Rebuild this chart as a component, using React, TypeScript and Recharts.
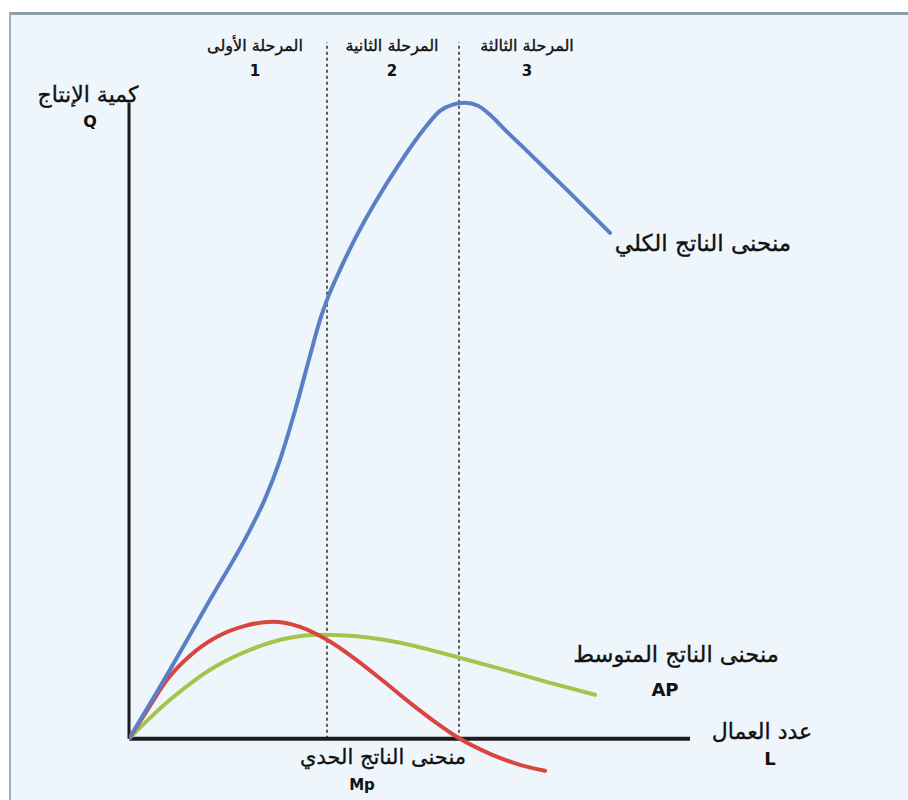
import { LineChart, Line, XAxis, YAxis, ReferenceLine } from "recharts";

// Stage titles above the chart and the stage numbers under them
const STAGE_NAMES = ["المرحلة الأولى", "المرحلة الثانية", "المرحلة الثالثة"];
const STAGE_NUMBERS = ["1", "2", "3"];
// Stage boundaries on the L axis
const STAGE_BOUNDS = [30, 50];

// Total product (TP)
const TP_L = [0, 6.21, 12.27, 18.33, 20.61, 22.88, 25.15, 27.42, 28.94, 30, 31.97, 34.24, 37.27, 41.06, 44.85, 47.12, 48.94, 50.91, 52.88, 54.7, 56.97, 60.76, 66.82, 72.88];
const TP_Q = [0, 10.85, 21.85, 32.85, 37.72, 43.85, 51.56, 60.2, 65.86, 69, 73.72, 78.58, 84.25, 90.54, 96.04, 98.71, 99.65, 99.97, 99.5, 98.08, 95.72, 91.95, 85.82, 79.53];

// Marginal product (MP)
const MP_L = [0, 3.18, 5.76, 9.24, 13.33, 17.58, 21.82, 25.91, 30, 34.24, 38.48, 42.58, 46.36, 50.15, 54.7, 59.24, 63.03];
const MP_Q = [0, 5.19, 9.27, 13.05, 16.03, 17.76, 18.39, 17.6, 15.56, 12.57, 9.12, 5.66, 2.67, 0, -2.36, -4.09, -5.03];

// Average product (AP)
const AP_L = [0, 3.18, 6.21, 9.24, 13.03, 18.33, 24.39, 28.48, 33.48, 36.52, 41.06, 45.61, 50.15, 55.76, 63.79, 70.61];
const AP_Q = [0, 3.3, 6.13, 8.65, 11.32, 13.99, 15.88, 16.35, 16.19, 15.88, 15.09, 13.99, 12.73, 11.16, 8.8, 6.92];

const Y_TITLE = ["كمية الإنتاج", "Q"];
const X_TITLE = ["عدد العمال", "L"];
const TP_NAME = "منحنى الناتج الكلي";
const AP_NAME = ["منحنى الناتج المتوسط", "AP"];
const MP_NAME = ["منحنى الناتج الحدي", "Mp"];

const zip = (xs: number[], ys: number[]) => xs.map((l, i) => ({ l, q: ys[i] }));

const FONT = "'DejaVu Sans', sans-serif";
const INK = "#111111";

function Txt({ x, y, size, bold, children }: { x: number; y: number; size: number; bold?: boolean; children: string }) {
  return (
    <div
      style={{
        position: "absolute",
        left: x,
        top: y,
        transform: "translate(-50%, -50%)",
        whiteSpace: "nowrap",
        fontFamily: FONT,
        fontSize: size,
        fontWeight: bold ? 700 : 400,
        color: INK,
        WebkitTextStroke: bold ? undefined : "0.35px #111111",
        direction: "rtl",
        lineHeight: 1,
      }}
    >
      {children}
    </div>
  );
}

export default function App() {
  const tp = zip(TP_L, TP_Q);
  const mp = zip(MP_L, MP_Q);
  const ap = zip(AP_L, AP_Q);
  const stageX = [255, 392, 527];

  return (
    <div style={{ position: "absolute", left: 0, top: 0, width: 908, height: 800, background: "#ffffff", overflow: "hidden" }}>
      {/* framed panel */}
      <div
        style={{
          position: "absolute",
          left: 9,
          top: 12,
          width: 899,
          height: 788,
          background: "#eef6fc",
          borderTop: "3px solid #8c9fa9",
          borderLeft: "2px solid #9fb0b8",
          boxSizing: "border-box",
        }}
      />
      <div style={{ position: "absolute", left: 0, top: 0 }}>
        <LineChart width={908} height={800} margin={{ top: 39, right: 218, bottom: 23, left: 129 }}>
          <XAxis type="number" dataKey="l" domain={[0, 85]} hide allowDataOverflow />
          <YAxis type="number" dataKey="q" domain={[-6, 110]} hide allowDataOverflow />
          {STAGE_BOUNDS.map((b) => (
            <ReferenceLine
              key={b}
              segment={[{ x: b, y: 0 }, { x: b, y: 109.5 }]}
              stroke="#2a2a2a"
              strokeWidth={1.5}
              strokeDasharray="3 3"
            />
          ))}
          <ReferenceLine segment={[{ x: 0, y: 0 }, { x: 0, y: 100 }]} stroke="#1c1c1c" strokeWidth={3} />
          <ReferenceLine segment={[{ x: 0, y: 0 }, { x: 85, y: 0 }]} stroke="#1c1c1c" strokeWidth={4} />
          <Line data={ap} dataKey="q" type="monotone" stroke="#a2c64b" strokeWidth={4} dot={false} strokeLinecap="round" isAnimationActive={false} />
          <Line data={mp} dataKey="q" type="monotone" stroke="#d9453f" strokeWidth={4} dot={false} strokeLinecap="round" isAnimationActive={false} />
          <Line data={tp} dataKey="q" type="monotone" stroke="#5a7fc5" strokeWidth={4} dot={false} strokeLinecap="round" isAnimationActive={false} />
        </LineChart>
      </div>

      {STAGE_NAMES.map((s, i) => (
        <Txt key={s} x={stageX[i]} y={46} size={16}>{s}</Txt>
      ))}
      {STAGE_NUMBERS.map((s, i) => (
        <Txt key={s} x={stageX[i]} y={71} size={15} bold>{s}</Txt>
      ))}
      <Txt x={88} y={95} size={22}>{Y_TITLE[0]}</Txt>
      <Txt x={90} y={122} size={16} bold>{Y_TITLE[1]}</Txt>
      <Txt x={703} y={243} size={23}>{TP_NAME}</Txt>
      <Txt x={676} y={654} size={22.5}>{AP_NAME[0]}</Txt>
      <Txt x={665} y={690} size={18} bold>{AP_NAME[1]}</Txt>
      <Txt x={762} y={732} size={22}>{X_TITLE[0]}</Txt>
      <Txt x={770} y={759} size={18} bold>{X_TITLE[1]}</Txt>
      <Txt x={383} y={757} size={21}>{MP_NAME[0]}</Txt>
      <Txt x={362} y={785} size={15} bold>{MP_NAME[1]}</Txt>
    </div>
  );
}
